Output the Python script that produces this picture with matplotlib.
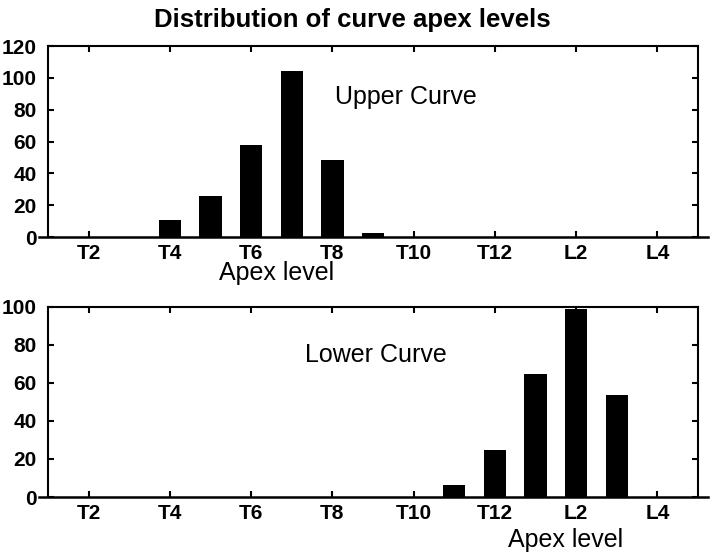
import matplotlib
matplotlib.use("Agg")
from matplotlib import pyplot as plt

# levels T1..T12, L1..L5 -> positions 1..17
levels = ["T1", "T2", "T3", "T4", "T5", "T6", "T7", "T8", "T9", "T10", "T11", "T12",
          "L1", "L2", "L3", "L4", "L5"]
tick_levels = ["T2", "T4", "T6", "T8", "T10", "T12", "L2", "L4"]

upper_levels = ["T4", "T5", "T6", "T7", "T8", "T9"]
upper_counts = [11, 26, 58, 104, 48.5, 2.5]

lower_levels = ["T11", "T12", "L1", "L2", "L3"]
lower_counts = [6.5, 24.6, 64.5, 98.8, 53.7]

plt.rcParams['font.family'] = ['Liberation Sans', 'DejaVu Sans']

fig = plt.figure(figsize=(7.14, 5.59), dpi=100)


def pos(name):
    return levels.index(name) + 1


def panel(rect, names, counts, ymax, label, label_xy, xlabel_x, xlabel_y):
    ax = fig.add_axes(rect)
    ax.bar([pos(n) for n in names], counts, width=0.55, color='black')
    ax.set_xlim(1, 17)
    ax.set_ylim(0, ymax)
    ax.set_xticks([pos(n) for n in tick_levels])
    ax.set_xticklabels(tick_levels, fontsize=15, fontweight='bold')
    ax.set_yticks(range(0, ymax + 1, 20))
    ax.set_yticklabels([str(v) for v in range(0, ymax + 1, 20)], fontsize=15, fontweight='bold')
    ax.tick_params(direction='in', top=True, right=True, length=4, width=1.5, pad=5)
    ax.tick_params(axis='y', pad=8)
    for s in ax.spines.values():
        s.set_linewidth(1.5)
    ax.spines['bottom'].set_visible(False)
    # baseline runs a little past both sides of the box
    ax.axhline(0, xmin=-0.014, xmax=1.015, color='black', lw=1.8, clip_on=False)
    ax.text(label_xy[0], label_xy[1], label, fontsize=18, va='center', transform=ax.transAxes)
    fig.text(xlabel_x, xlabel_y, "Apex level", fontsize=18, ha='center', va='center')
    return ax


panel([0.0672, 0.576, 0.9104, 0.3417], upper_levels, upper_counts, 120,
      "Upper Curve", (0.441, 0.733), 0.388, 0.512)
panel([0.0672, 0.1109, 0.9104, 0.340], lower_levels, lower_counts, 100,
      "Lower Curve", (0.395, 0.747), 0.792, 0.034)

fig.text(0.494, 0.964, "Distribution of curve apex levels", fontsize=18.5,
         fontweight='bold', ha='center', va='center')

fig.savefig("out.png", dpi=100)
